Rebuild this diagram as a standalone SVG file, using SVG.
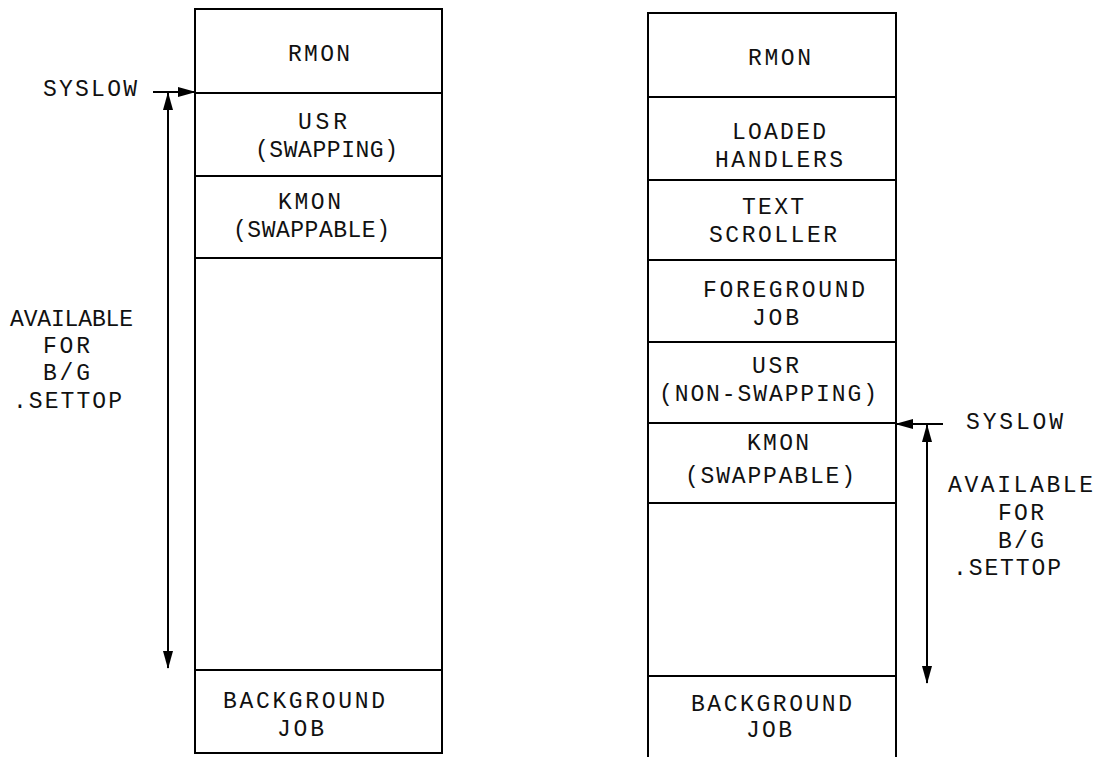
<svg xmlns="http://www.w3.org/2000/svg" width="1097" height="757" viewBox="0 0 1097 757">
<style>
.box,.seg{fill:none;stroke:#000;stroke-width:2}
text{font-family:"Liberation Mono","DejaVu Sans Mono",monospace;font-size:23px;fill:#111}
.c{stroke:#000;stroke-width:2;fill:none}
</style>
<defs>
<marker id="ah" markerUnits="userSpaceOnUse" markerWidth="18" markerHeight="10" refX="17" refY="5" orient="auto-start-reverse" viewBox="0 0 18 10">
<path d="M0,0 L18,5 L0,10 Z" fill="#000"/>
</marker>
</defs>
<rect width="1097" height="757" fill="#fff"/>

<g id="left-rmon"><rect class="box" x="195" y="9" width="247" height="84"/><text x="288" y="61" textLength="62">RMON</text></g>
<g id="left-usr"><rect class="box" x="195" y="93" width="247" height="83"/><text x="298" y="129" textLength="49">USR</text><text x="255" y="157" textLength="143">(SWAPPING)</text></g>
<g id="left-kmon"><rect class="box" x="195" y="176" width="247" height="82"/><text x="278" y="209" textLength="63">KMON</text><text x="233" y="237" textLength="157">(SWAPPABLE)</text></g>
<g id="left-free"><rect class="box" x="195" y="258" width="247" height="412"/></g>
<g id="left-bg"><rect class="box" x="195" y="670" width="247" height="83"/><text x="223" y="708" textLength="162">BACKGROUND</text><text x="277" y="736" textLength="47">JOB</text></g>
<g id="left-syslow"><text x="43" y="96" textLength="94">SYSLOW</text></g>
<g id="left-avail"><text x="10" y="326" textLength="123">AVAILABLE</text><text x="43" y="353" textLength="47">FOR</text><text x="43" y="380" textLength="47">B/G</text><text x="13" y="408" textLength="109">.SETTOP</text></g>

<g id="right-rmon"><rect class="box" x="648" y="13" width="248" height="84"/><text x="748" y="65" textLength="63">RMON</text></g>
<g id="right-handlers"><rect class="box" x="648" y="97" width="248" height="83"/><text x="732" y="139" textLength="94">LOADED</text><text x="715" y="167" textLength="128">HANDLERS</text></g>
<g id="right-scroller"><rect class="box" x="648" y="180" width="248" height="80"/><text x="742" y="214" textLength="62">TEXT</text><text x="709" y="242" textLength="128">SCROLLER</text></g>
<g id="right-fg"><rect class="box" x="648" y="260" width="248" height="82"/><text x="703" y="297" textLength="162">FOREGROUND</text><text x="752" y="325" textLength="47">JOB</text></g>
<g id="right-usr"><rect class="box" x="648" y="342" width="248" height="81"/><text x="752" y="373" textLength="47">USR</text><text x="659" y="401" textLength="218">(NON-SWAPPING)</text></g>
<g id="right-kmon"><rect class="box" x="648" y="423" width="248" height="80"/><text x="747" y="450" textLength="62">KMON</text><text x="685" y="483" textLength="170">(SWAPPABLE)</text></g>
<g id="right-free"><rect class="box" x="648" y="503" width="248" height="173"/></g>
<g id="right-bg"><path class="seg" d="M648,757 L648,676 L896,676 L896,757"/><text x="691" y="711" textLength="161">BACKGROUND</text><text x="746" y="737" textLength="46">JOB</text></g>
<g id="right-syslow"><text x="966" y="429" textLength="97">SYSLOW</text></g>
<g id="right-avail"><text x="948" y="492" textLength="145">AVAILABLE</text><text x="998" y="520" textLength="46">FOR</text><text x="998" y="548" textLength="46">B/G</text><text x="953" y="575" textLength="108">.SETTOP</text></g>

<g id="connectors">
<line class="c" x1="153" y1="92" x2="195" y2="92" marker-end="url(#ah)"/>
<line class="c" x1="168" y1="93" x2="168" y2="668" marker-start="url(#ah)" marker-end="url(#ah)"/>
<line class="c" x1="943" y1="424" x2="896" y2="424" marker-end="url(#ah)"/>
<line class="c" x1="927" y1="425" x2="927" y2="683" marker-start="url(#ah)" marker-end="url(#ah)"/>
</g>
</svg>
